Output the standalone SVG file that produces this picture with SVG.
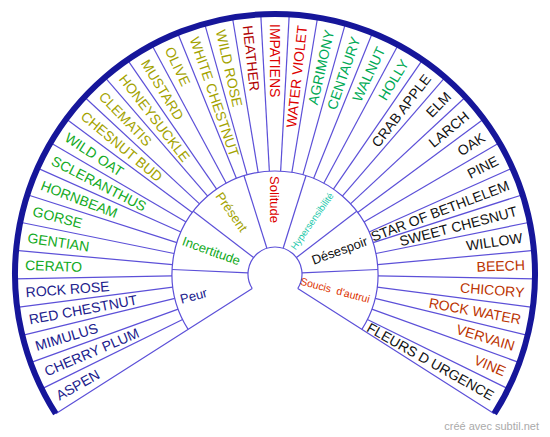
<svg xmlns="http://www.w3.org/2000/svg" width="550" height="437" viewBox="0 0 550 437">
<style>
text{font-family:"Liberation Sans",Arial,Helvetica,sans-serif}
.it{font-size:14px}
.cat{font-size:13px}
.L{text-anchor:start}
.R{text-anchor:end}
.ln{stroke:#5c50d8;stroke-width:1.2;fill:none}
.rim{stroke:#16169a;stroke-width:6;fill:none}
.c1{fill:#20208c}
.c2{fill:#11aa22}
.c3{fill:#a3a300}
.c4a{fill:#b00000}
.c4{fill:#dd0000}
.c5{fill:#00aa55}
.c5t{fill:#22c8aa}
.c6{fill:#111111}
.c7{fill:#bb3300}
.c7t{fill:#dd3300}
.wm{fill:#aaaaaa;font-size:11px;text-anchor:end}
</style>
<defs>
<line id="sp" x1="103" y1="0" x2="260" y2="0"/>
<line id="cl" x1="27" y1="0" x2="103" y2="0"/>
</defs>
<rect width="550" height="437" fill="#ffffff"/>
<g id="connectors" class="ln" transform="translate(275,274)">
<path d="M -22.772 14.507 A 27 27 0 1 1 22.772 14.507"/>
<path d="M -86.869 55.342 A 103 103 0 1 1 86.869 55.342"/>
<path d="M -22.772 14.507 L -219.281 139.698 M 22.772 14.507 L 219.281 139.698"/>
<use href="#sp" transform="rotate(153.782)"/>
<use href="#sp" transform="rotate(160.064)"/>
<use href="#sp" transform="rotate(166.346)"/>
<use href="#sp" transform="rotate(172.628)"/>
<use href="#sp" transform="rotate(178.910)"/>
<use href="#sp" transform="rotate(185.192)"/>
<use href="#sp" transform="rotate(191.474)"/>
<use href="#sp" transform="rotate(197.756)"/>
<use href="#sp" transform="rotate(204.038)"/>
<use href="#sp" transform="rotate(210.321)"/>
<use href="#sp" transform="rotate(216.603)"/>
<use href="#sp" transform="rotate(222.885)"/>
<use href="#sp" transform="rotate(229.167)"/>
<use href="#sp" transform="rotate(235.449)"/>
<use href="#sp" transform="rotate(241.731)"/>
<use href="#sp" transform="rotate(248.013)"/>
<use href="#sp" transform="rotate(254.295)"/>
<use href="#sp" transform="rotate(260.577)"/>
<use href="#sp" transform="rotate(266.859)"/>
<use href="#sp" transform="rotate(273.141)"/>
<use href="#sp" transform="rotate(279.423)"/>
<use href="#sp" transform="rotate(285.705)"/>
<use href="#sp" transform="rotate(291.987)"/>
<use href="#sp" transform="rotate(298.269)"/>
<use href="#sp" transform="rotate(304.551)"/>
<use href="#sp" transform="rotate(310.833)"/>
<use href="#sp" transform="rotate(317.115)"/>
<use href="#sp" transform="rotate(323.397)"/>
<use href="#sp" transform="rotate(329.679)"/>
<use href="#sp" transform="rotate(335.962)"/>
<use href="#sp" transform="rotate(342.244)"/>
<use href="#sp" transform="rotate(348.526)"/>
<use href="#sp" transform="rotate(354.808)"/>
<use href="#sp" transform="rotate(361.090)"/>
<use href="#sp" transform="rotate(367.372)"/>
<use href="#sp" transform="rotate(373.654)"/>
<use href="#sp" transform="rotate(379.936)"/>
<use href="#sp" transform="rotate(386.218)"/>
<use href="#cl" transform="rotate(182.5)"/>
<use href="#cl" transform="rotate(217.5)"/>
<use href="#cl" transform="rotate(252.5)"/>
<use href="#cl" transform="rotate(287.5)"/>
<use href="#cl" transform="rotate(322.5)"/>
<use href="#cl" transform="rotate(357.5)"/>
<path class="rim" d="M -219.281 139.698 A 260 260 0 1 1 219.281 139.698"/>
</g>
<g id="categories" class="cat">
<g id="cat-peur"><text class="L c1" transform="translate(275,274) rotate(-15)" x="-98" dy=".35em">Peur</text></g>
<g id="cat-incertitude"><text class="L c2" transform="translate(275,274) rotate(20)" x="-98" dy=".35em">Incertitude</text></g>
<g id="cat-present"><text class="L c3" transform="translate(275,274) rotate(55)" x="-98" dy=".35em">Présent</text></g>
<g id="cat-solitude"><text class="L c4" transform="translate(275,274) rotate(90)" x="-98" dy=".35em">Solitude</text></g>
<g id="cat-hypersensibilite"><text class="R c5t" style="font-size:9.5px" transform="translate(275,274) rotate(-55)" x="98" dy=".35em">Hypersensibilité</text></g>
<g id="cat-desespoir"><text class="R c6" transform="translate(275,274) rotate(-20)" x="98" dy=".35em">Désespoir</text></g>
<g id="cat-soucis"><text class="R c7t" style="font-size:10.5px" transform="translate(275,274) rotate(15)" x="98" dy=".35em">Soucis&#160; d'autrui</text></g>
</g>
<g id="items" class="it">
<g id="aspen"><text class="L c1" transform="translate(275,274) rotate(-29.359)" x="-250" dy=".35em">ASPEN</text></g>
<g id="cherry-plum"><text class="L c1" transform="translate(275,274) rotate(-23.077)" x="-250" dy=".35em">CHERRY PLUM</text></g>
<g id="mimulus"><text class="L c1" transform="translate(275,274) rotate(-16.795)" x="-250" dy=".35em">MIMULUS</text></g>
<g id="red-chestnut"><text class="L c1" transform="translate(275,274) rotate(-10.513)" x="-250" dy=".35em">RED CHESTNUT</text></g>
<g id="rock-rose"><text class="L c1" transform="translate(275,274) rotate(-4.231)" x="-250" dy=".35em">ROCK ROSE</text></g>
<g id="cerato"><text class="L c2" transform="translate(275,274) rotate(2.051)" x="-250" dy=".35em">CERATO</text></g>
<g id="gentian"><text class="L c2" transform="translate(275,274) rotate(8.333)" x="-250" dy=".35em">GENTIAN</text></g>
<g id="gorse"><text class="L c2" transform="translate(275,274) rotate(14.615)" x="-250" dy=".35em">GORSE</text></g>
<g id="hornbeam"><text class="L c2" transform="translate(275,274) rotate(20.897)" x="-250" dy=".35em">HORNBEAM</text></g>
<g id="scleranthus"><text class="L c2" transform="translate(275,274) rotate(27.179)" x="-250" dy=".35em">SCLERANTHUS</text></g>
<g id="wild-oat"><text class="L c2" transform="translate(275,274) rotate(33.462)" x="-250" dy=".35em">WILD OAT</text></g>
<g id="chesnut-bud"><text class="L c3" transform="translate(275,274) rotate(39.744)" x="-250" dy=".35em">CHESNUT BUD</text></g>
<g id="clematis"><text class="L c3" transform="translate(275,274) rotate(46.026)" x="-250" dy=".35em">CLEMATIS</text></g>
<g id="honeysuckle"><text class="L c3" transform="translate(275,274) rotate(52.308)" x="-250" dy=".35em">HONEYSUCKLE</text></g>
<g id="mustard"><text class="L c3" transform="translate(275,274) rotate(58.590)" x="-250" dy=".35em">MUSTARD</text></g>
<g id="olive"><text class="L c3" transform="translate(275,274) rotate(64.872)" x="-250" dy=".35em">OLIVE</text></g>
<g id="white-chestnut"><text class="L c3" transform="translate(275,274) rotate(71.154)" x="-250" dy=".35em">WHITE CHESTNUT</text></g>
<g id="wild-rose"><text class="L c3" transform="translate(275,274) rotate(77.436)" x="-250" dy=".35em">WILD ROSE</text></g>
<g id="heather"><text class="L c4a" transform="translate(275,274) rotate(83.718)" x="-250" dy=".35em">HEATHER</text></g>
<g id="impatiens"><text class="L c4" transform="translate(275,274) rotate(90)" x="-250" dy=".35em">IMPATIENS</text></g>
<g id="water-violet"><text class="R c4" transform="translate(275,274) rotate(-83.718)" x="250" dy=".35em">WATER VIOLET</text></g>
<g id="agrimony"><text class="R c5" transform="translate(275,274) rotate(-77.436)" x="250" dy=".35em">AGRIMONY</text></g>
<g id="centaury"><text class="R c5" transform="translate(275,274) rotate(-71.154)" x="250" dy=".35em">CENTAURY</text></g>
<g id="walnut"><text class="R c5" transform="translate(275,274) rotate(-64.872)" x="250" dy=".35em">WALNUT</text></g>
<g id="holly"><text class="R c5" transform="translate(275,274) rotate(-58.590)" x="250" dy=".35em">HOLLY</text></g>
<g id="crab-apple"><text class="R c6" transform="translate(275,274) rotate(-52.308)" x="250" dy=".35em">CRAB APPLE</text></g>
<g id="elm"><text class="R c6" transform="translate(275,274) rotate(-46.026)" x="250" dy=".35em">ELM</text></g>
<g id="larch"><text class="R c6" transform="translate(275,274) rotate(-39.744)" x="250" dy=".35em">LARCH</text></g>
<g id="oak"><text class="R c6" transform="translate(275,274) rotate(-33.462)" x="250" dy=".35em">OAK</text></g>
<g id="pine"><text class="R c6" transform="translate(275,274) rotate(-27.179)" x="250" dy=".35em">PINE</text></g>
<g id="star-of-bethlelem"><text class="R c6" transform="translate(275,274) rotate(-20.897)" x="250" dy=".35em">STAR OF BETHLELEM</text></g>
<g id="sweet-chesnut"><text class="R c6" transform="translate(275,274) rotate(-14.615)" x="250" dy=".35em">SWEET CHESNUT</text></g>
<g id="willow"><text class="R c6" transform="translate(275,274) rotate(-8.333)" x="250" dy=".35em">WILLOW</text></g>
<g id="beech"><text class="R c7" transform="translate(275,274) rotate(-2.051)" x="250" dy=".35em">BEECH</text></g>
<g id="chicory"><text class="R c7" transform="translate(275,274) rotate(4.231)" x="250" dy=".35em">CHICORY</text></g>
<g id="rock-water"><text class="R c7" transform="translate(275,274) rotate(10.513)" x="250" dy=".35em">ROCK WATER</text></g>
<g id="vervain"><text class="R c7" transform="translate(275,274) rotate(16.795)" x="250" dy=".35em">VERVAIN</text></g>
<g id="vine"><text class="R c7" transform="translate(275,274) rotate(23.077)" x="250" dy=".35em">VINE</text></g>
<g id="fleurs-d-urgence"><text class="R c6" transform="translate(275,274) rotate(29.359)" x="250" dy=".35em">FLEURS D URGENCE</text></g>
</g>
<text class="wm" x="539" y="430">créé avec subtil.net</text>
</svg>
